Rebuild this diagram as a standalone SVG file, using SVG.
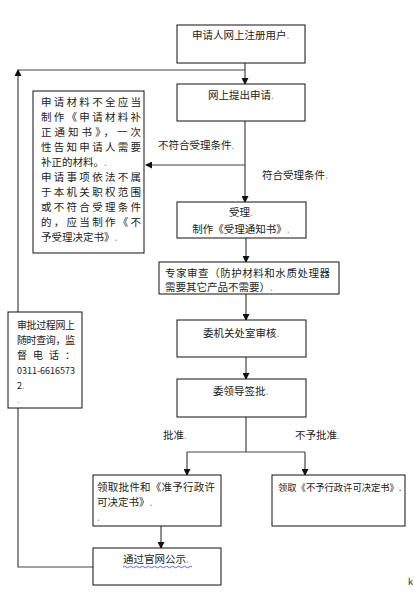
<svg xmlns="http://www.w3.org/2000/svg" width="414" height="594" viewBox="0 0 414 594">
<style>
.box{fill:#fff;stroke:#111;stroke-width:1}
.t{font-family:"Noto Sans CJK SC","Liberation Sans",sans-serif;font-size:10.5px;fill:#222}
.s{font-size:10px}
.c{fill:none;stroke:#444;stroke-width:1.2}
.m{fill:#999}
</style>
<defs>
<marker id="ah" markerWidth="7" markerHeight="7" refX="6" refY="3.5" orient="auto" markerUnits="userSpaceOnUse">
<path d="M0,0 L7,3.5 L0,7 Z" fill="#111"/>
</marker>
</defs>
<rect width="414" height="594" fill="#fff"/>
<g id="connectors">
<path class="c" d="M245,63 V84" marker-end="url(#ah)"/>
<path class="c" d="M245,70 H18"/>
<path class="c" d="M93,567 H18 V70" marker-end="url(#ah)"/>
<path class="c" d="M245,121 V202" marker-end="url(#ah)"/>
<path class="c" d="M245,165 H146" marker-end="url(#ah)"/>
<path class="c" d="M246,238 V262" marker-end="url(#ah)"/>
<path class="c" d="M246,294 V320" marker-end="url(#ah)"/>
<path class="c" d="M246,357 V379" marker-end="url(#ah)"/>
<path class="c" d="M246,417 V452"/>
<path class="c" d="M187,452 H305"/>
<path class="c" d="M187,452 V475" marker-end="url(#ah)"/>
<path class="c" d="M305,452 V475" marker-end="url(#ah)"/>
<path class="c" d="M161,526 V548" marker-end="url(#ah)"/>
<text class="t" x="158" y="149">不符合受理条件<tspan class="m">.</tspan></text>
<text class="t" x="262" y="179">符合受理条件<tspan class="m">.</tspan></text>
<text class="t" x="163" y="439">批准<tspan class="m">.</tspan></text>
<text class="t" x="295" y="439">不予批准<tspan class="m">.</tspan></text>
</g>
<g id="n1">
<rect class="box" x="177" y="25" width="128" height="38"/>
<text class="t" x="192" y="39">申请人网上注册用户<tspan class="m">.</tspan></text>
</g>
<g id="n2">
<rect class="box" x="177" y="84" width="128" height="37"/>
<text class="t" x="208" y="99">网上提出申请<tspan class="m">.</tspan></text>
</g>
<g id="n3">
<rect class="box" x="33" y="91" width="111" height="162"/>
<text class="t" x="41" y="106" textLength="100" lengthAdjust="spacing">申请材料不全应当</text>
<text class="t" x="41" y="121" textLength="100" lengthAdjust="spacing">制作《申请材料补</text>
<text class="t" x="41" y="136" textLength="100" lengthAdjust="spacing">正通知书》，一次</text>
<text class="t" x="41" y="151" textLength="100" lengthAdjust="spacing">性告知申请人需要</text>
<text class="t" x="41" y="166">补正的材料。<tspan class="m">.</tspan></text>
<text class="t" x="41" y="181" textLength="100" lengthAdjust="spacing">申请事项依法不属</text>
<text class="t" x="41" y="196" textLength="100" lengthAdjust="spacing">于本机关职权范围</text>
<text class="t" x="41" y="211" textLength="100" lengthAdjust="spacing">或不符合受理条件</text>
<text class="t" x="41" y="226" textLength="100" lengthAdjust="spacing">的，应当制作《不</text>
<text class="t" x="41" y="241">予受理决定书》<tspan class="m">.</tspan></text>
</g>
<g id="n4">
<rect class="box" x="177" y="202" width="129" height="36"/>
<text class="t" x="241" y="216" text-anchor="middle">受理<tspan class="m">.</tspan></text>
<text class="t" x="241" y="233" text-anchor="middle">制作《受理通知书》<tspan class="m">.</tspan></text>
</g>
<g id="n5">
<rect class="box" x="159" y="262" width="180" height="32"/>
<text class="t" x="165" y="277" textLength="165" lengthAdjust="spacing">专家审查（防护材料和水质处理器</text>
<text class="t" x="165" y="291">需要其它产品不需要）<tspan class="m">.</tspan></text>
</g>
<g id="n6">
<rect class="box" x="177" y="320" width="129" height="37"/>
<text class="t" x="203" y="337">委机关处室审核<tspan class="m">.</tspan></text>
</g>
<g id="n7">
<rect class="box" x="177" y="379" width="129" height="38"/>
<text class="t" x="213" y="395">委领导签批<tspan class="m">.</tspan></text>
</g>
<g id="n8">
<rect class="box" x="8" y="312" width="74" height="96"/>
<text class="t s" x="17" y="329" textLength="58" lengthAdjust="spacing">审批过程网上</text>
<text class="t s" x="17" y="344" textLength="58" lengthAdjust="spacing">随时查询，监</text>
<text class="t s" x="17" y="359" textLength="58" lengthAdjust="spacing">督电话：</text>
<text class="t" x="17" y="374" style="font-size:9px" textLength="58" lengthAdjust="spacingAndGlyphs">0311-6616573</text>
<text class="t" x="17" y="389" style="font-size:9px">2<tspan class="m">.</tspan></text>
<text class="t m" x="17" y="403" style="font-size:9px">.</text>
</g>
<g id="n9">
<rect class="box" x="93" y="475" width="128" height="51"/>
<text class="t" x="97" y="491" textLength="118" lengthAdjust="spacing">领取批件和《准予行政许</text>
<text class="t" x="97" y="506">可决定书》<tspan class="m">.</tspan></text>
<text class="t m" x="97" y="521">.</text>
</g>
<g id="n10">
<rect class="box" x="272" y="475" width="133" height="51"/>
<text class="t" x="278" y="491" style="font-size:9.3px">领取《不予行政许可决定书》.</text>
</g>
<g id="n11">
<rect class="box" x="93" y="548" width="128" height="37"/>
<text class="t" x="123" y="563">通过官网公示<tspan class="m">.</tspan></text>
<path d="M123,567 q1.5,-1.5 3,0 t3,0 t3,0 t3,0 t3,0 t3,0 t3,0 t3,0 t3,0 t3,0 t3,0 t3,0 t3,0 t3,0 t3,0 t3,0 t3,0 t3,0 t3,0 t3,0 t3,0 t3,0 t3,0" fill="none" stroke="#3344cc" stroke-width="0.8"/>
</g>
<text class="t" x="408" y="585" style="font-size:9px">k</text>
</svg>
